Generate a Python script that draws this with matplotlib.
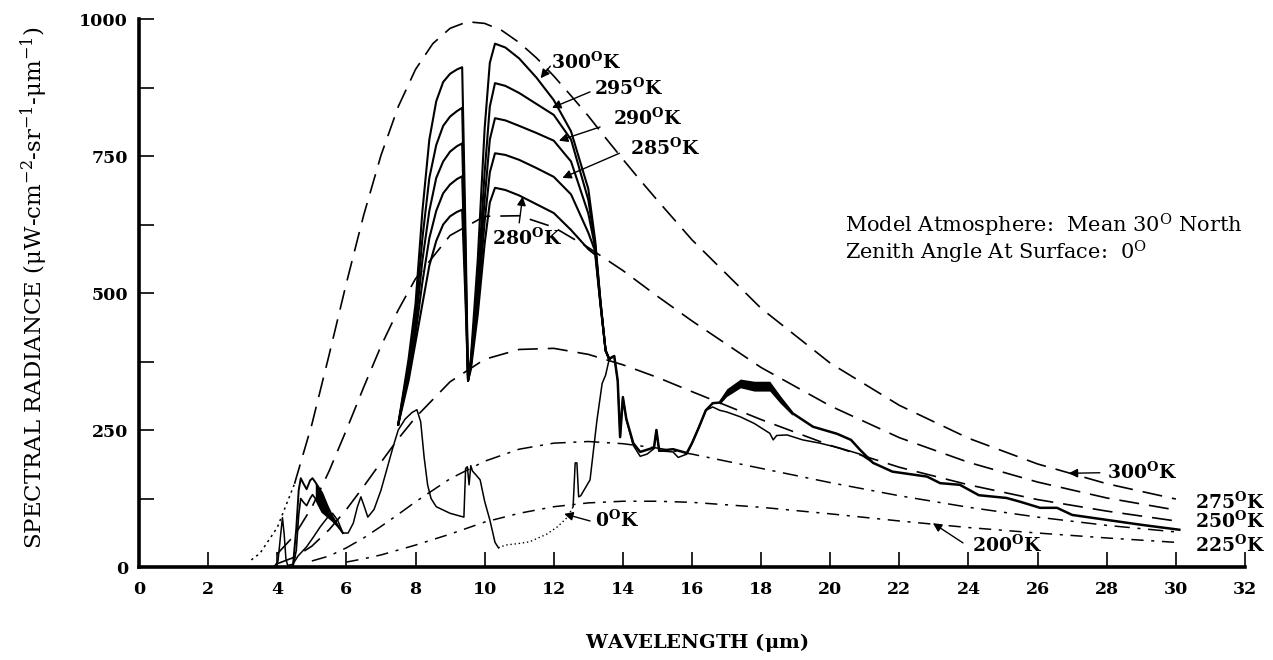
import numpy as np
import matplotlib
matplotlib.use("Agg")
import matplotlib.pyplot as plt
from matplotlib.ticker import MultipleLocator

plt.rcParams["font.family"] = ["DejaVu Serif"]
plt.rcParams["mathtext.default"] = "regular"

# --- blackbody curves (dashed) ---
bb300_x = [3.25, 3.5, 4, 4.5, 5, 5.5, 6, 6.5, 7, 7.5, 8, 8.5, 9, 9.5, 10, 10.5, 11, 11.5,
           12, 12.5, 13, 13.5, 14, 14.5, 15, 16, 18, 20, 22, 24, 26, 28, 30]
bb300_y = [13, 25, 72, 152, 260, 387, 518, 642, 751, 840, 908, 955, 983, 995, 992, 979, 957, 929,
           896, 860, 823, 783, 744, 706, 669, 597, 472, 372, 295, 235, 188, 152, 124]

bb_mid_x = [4, 4.5, 5, 5.5, 6, 6.5, 7, 7.5, 8, 9, 10, 11, 12, 13, 14, 15, 16, 18, 20, 22, 24, 26, 28, 30]
bb275_y = [24, 58, 109, 175, 250, 328, 403, 469, 526, 605, 640, 641, 620, 583, 541, 494, 449, 364,
           294, 236, 191, 155, 126, 104]
bb250_y = [6, 18, 38, 68, 105, 147, 191, 234, 273, 338, 379, 397, 399, 388, 369, 346, 320, 269,
           222, 182, 150, 123, 102, 84]

bb225_x = [5, 5.5, 6, 6.5, 7, 7.5, 8, 9, 10, 11, 12, 13, 14, 15, 16, 18, 20, 22, 24, 26, 28, 30]
bb225_y = [11, 20, 35, 53, 74, 96, 119, 161, 193, 215, 226, 229, 225, 217, 206, 180, 154, 130,
           109, 91, 76, 64]

bb200_x = [6, 6.5, 7, 8, 9, 10, 11, 12, 13, 14, 15, 16, 18, 20, 22, 24, 26, 28, 30]
bb200_y = [9, 15, 22, 40, 60, 82, 98, 110, 117, 120, 120, 118, 109, 97, 84, 72, 62, 53, 45]

# --- atmospheric radiance, 8-13.5 um window, per surface temperature ---
win_x = [7.5, 7.8, 8.0, 8.2, 8.4, 8.6, 8.8, 9.0, 9.2, 9.35, 9.45, 9.52, 9.6, 9.8, 10.0, 10.15,
         10.3, 10.6, 11.0, 11.5, 12.0, 12.5, 13.0, 13.2, 13.35, 13.5, 13.6]
win_300 = [260, 380, 480, 650, 780, 850, 885, 900, 908, 912, 600, 340, 380, 560, 800, 920,
           955, 948, 928, 893, 852, 795, 690, 595, 487, 395, 380]
win_295 = [260, 370, 460, 600, 710, 770, 805, 822, 832, 838, 560, 340, 375, 520, 720, 840,
           883, 878, 865, 845, 825, 780, 670, 588, 485, 395, 380]
win_290 = [260, 360, 440, 560, 650, 710, 740, 758, 768, 773, 530, 340, 370, 500, 670, 780,
           819, 815, 805, 792, 778, 740, 645, 582, 483, 395, 380]
win_285 = [260, 350, 425, 520, 600, 650, 682, 698, 708, 713, 500, 340, 365, 480, 630, 720,
           755, 752, 743, 728, 712, 680, 610, 576, 481, 395, 380]
win_280 = [260, 340, 410, 480, 550, 595, 625, 640, 648, 652, 480, 340, 360, 460, 590, 665,
           692, 688, 678, 662, 646, 615, 580, 570, 479, 395, 380]
win_temps = [win_300, win_295, win_290, win_285, win_280]

# 4.5 um band with surface emission (upper and lower envelope)
band_x = [4.45, 4.55, 4.62, 4.68, 4.76, 4.85, 4.95, 5.02, 5.1, 5.2, 5.3, 5.45, 5.6, 5.75, 5.9]
band_hi = [0, 70, 140, 162, 152, 142, 158, 162, 155, 145, 135, 112, 92, 76, 62]
band_lo = [0, 30, 95, 125, 118, 112, 125, 132, 125, 112, 100, 92, 84, 74, 62]

# long-wave part common to the surface curves
tail_x = [13.6, 13.75, 13.85, 13.92, 14.0, 14.1, 14.3, 14.5, 14.9, 14.97, 15.05, 15.45, 15.85, 16.0,
          16.2, 16.4, 16.6, 16.8, 17.0, 17.4, 17.8, 18.25, 18.55, 18.9, 19.5, 20.2, 20.6, 20.86,
          21.24, 21.8, 22.8, 23.18, 23.75, 24.3, 25.1, 25.5, 26.07, 26.56, 27.0, 28.0, 29.0, 30.1]
tail_y = [380, 385, 340, 237, 310, 270, 226, 210, 218, 250, 212, 215, 208, 226,
          255, 286, 299, 300, 318, 335, 330, 330, 306, 281, 256, 243, 232, 214,
          190, 174, 165, 153, 150, 131, 126, 119, 108, 108, 95, 86, 77, 68]
band2_x = [16.8, 17.0, 17.4, 17.8, 18.25, 18.55, 18.9]
band2_hi = [303, 325, 343, 339, 339, 313, 285]
band2_lo = [297, 311, 327, 321, 321, 299, 277]

# 0 K surface (atmosphere only)
zero_x = [0, 3.9, 4.02, 4.1, 4.15, 4.2, 4.25, 4.3, 4.45, 4.6, 4.85, 5.05, 5.24, 5.45, 5.6, 5.75,
          5.9, 6.05, 6.2, 6.32, 6.42, 6.52, 6.62, 6.8, 7.0, 7.2, 7.35, 7.5, 7.7, 7.9, 8.04, 8.15,
          8.25, 8.35, 8.45, 8.6, 9.0, 9.4, 9.45, 9.5, 9.55, 9.6, 9.65, 9.75, 9.87, 10.0, 10.15,
          10.3, 10.4]
zero_y = [0, 0, 10, 60, 90, 60, 15, 3, 5, 20, 37, 55, 73, 90, 98, 85,
          62, 62, 80, 110, 128, 110, 91, 105, 140, 185, 219, 250, 270, 282, 287, 265,
          200, 150, 125, 110, 98, 91, 180, 183, 150, 185, 175, 168, 159, 120, 86,
          45, 35]
zero_dot_x = [10.4, 10.6, 11.0, 11.3, 11.8, 12.1, 12.4, 12.56]
zero_dot_y = [35, 40, 43, 46, 60, 73, 91, 110]
zero2_x = [12.56, 12.62, 12.67, 12.72, 12.78, 13.05, 13.25, 13.4, 13.5, 13.6, 13.75, 13.85, 13.92,
           14.0, 14.1, 14.3, 14.5, 14.7, 14.9, 14.97, 15.05, 15.45, 15.6, 15.85, 16.0, 16.2, 16.4,
           16.6, 16.8, 17.0, 17.4, 17.8, 18.25, 18.35, 18.45, 18.75, 19.2, 19.7, 20.28, 20.86,
           21.24]
zero2_y = [110, 190, 190, 128, 130, 159, 268, 335, 350, 378, 385, 340, 237,
           310, 270, 222, 202, 206, 216, 250, 212, 210, 200, 206, 226, 255, 286,
           292, 286, 283, 274, 262, 244, 232, 240, 241, 232, 226, 217, 206,
           190]

fig = plt.figure(figsize=(12.73, 6.6), dpi=100)
ax = fig.add_axes([0.1092, 0.1409, 0.8688, 0.8303])

k = "black"
# blackbody curves
ax.plot(bb300_x[:4], bb300_y[:4], color=k, lw=1.1, ls=(0, (1.5, 2.5)))
ax.plot(bb300_x[3:], bb300_y[3:], color=k, lw=1.2, dashes=(12, 6))
ax.plot(bb_mid_x, bb275_y, color=k, lw=1.2, dashes=(12, 6))
ax.plot(bb_mid_x, bb250_y, color=k, lw=1.2, dashes=(12, 6))
ax.plot(bb225_x, bb225_y, color=k, lw=1.1, dashes=(10, 5, 2, 5))
ax.plot(bb200_x, bb200_y, color=k, lw=1.1, dashes=(8, 5, 2, 5))

# surface-temperature curves
for yy in win_temps:
    ax.plot(win_x, yy, color=k, lw=1.5)
ax.plot(band_x, band_hi, color=k, lw=1.4)
ax.plot(band_x, band_lo, color=k, lw=1.2)
bx = np.array(band_x)
ax.fill_between(bx, band_lo, band_hi, where=bx >= 5.05, color=k, lw=0)
ax.plot(tail_x, tail_y, color=k, lw=1.8)
ax.fill_between(band2_x, band2_lo, band2_hi, color=k, lw=0)

# 0 K curve
ax.plot(zero_x, zero_y, color=k, lw=1.1)
ax.plot(zero_dot_x, zero_dot_y, color=k, lw=1.0, ls=(0, (1, 2)))
ax.plot(zero2_x, zero2_y, color=k, lw=1.1)

# labels and arrows
lab_kw = dict(fontsize=13.5, fontweight="bold", va="center", ha="left")
arr = dict(arrowstyle="-|>", color=k, lw=1.0, mutation_scale=13, shrinkA=0, shrinkB=0)
labels = [("300$^{O}$K", 11.92, 922, (11.9, 914), (11.62, 892)),
          ("295$^{O}$K", 13.17, 874, (13.05, 867), (11.95, 838)),
          ("290$^{O}$K", 13.70, 819, (13.34, 803), (12.15, 778)),
          ("285$^{O}$K", 14.20, 765, (13.9, 755), (12.25, 710)),
          ("280$^{O}$K", 10.20, 600, (11.0, 628), (11.1, 676)),
          ("0$^{O}$K", 13.20, 86, (13.05, 84), (12.3, 97)),
          ("300$^{O}$K", 28.00, 173, (27.8, 172), (26.9, 171)),
          ("200$^{O}$K", 24.10, 40, (23.84, 44), (22.97, 80))]
for txt, tx, ty, tail, head in labels:
    ax.text(tx, ty, txt, **lab_kw)
    ax.annotate("", xy=head, xytext=tail, arrowprops=arr)
for txt, ty in [("275$^{O}$K", 119), ("250$^{O}$K", 84), ("225$^{O}$K", 40)]:
    ax.text(30.55, ty, txt, **lab_kw)

ax.text(20.43, 624, "Model Atmosphere:  Mean 30$^{O}$ North", fontsize=15, va="center", ha="left")
ax.text(20.43, 574, "Zenith Angle At Surface:  0$^{O}$", fontsize=15, va="center", ha="left")

# axes
ax.set_xlim(0, 32)
ax.set_ylim(0, 1000)
ax.spines["top"].set_visible(False)
ax.spines["right"].set_visible(False)
ax.spines["left"].set_linewidth(2.6)
ax.spines["bottom"].set_linewidth(2.6)
ax.set_xticks(np.arange(0, 33, 2))
ax.set_yticks([0, 250, 500, 750, 1000])
ax.yaxis.set_minor_locator(MultipleLocator(125))
ax.tick_params(which="both", direction="in", length=11, width=1.2)
ax.tick_params(axis="x", pad=10, labelsize=12.5)
ax.tick_params(axis="y", pad=8, labelsize=12.5)
for t in ax.get_xticklabels() + ax.get_yticklabels():
    t.set_fontweight("bold")

fig.text(34 / 1273, 1 - 288 / 660,
         r"SPECTRAL RADIANCE ($\mu$W-cm$^{-2}$-sr$^{-1}$-$\mu$m$^{-1}$)",
         rotation=90, ha="center", va="center", fontsize=16.5)
fig.text(697 / 1273, 1 - 643 / 660, r"WAVELENGTH ($\mu$m)", ha="center", va="center",
         fontsize=14, fontweight="bold")

fig.savefig("out.png", dpi=100)
